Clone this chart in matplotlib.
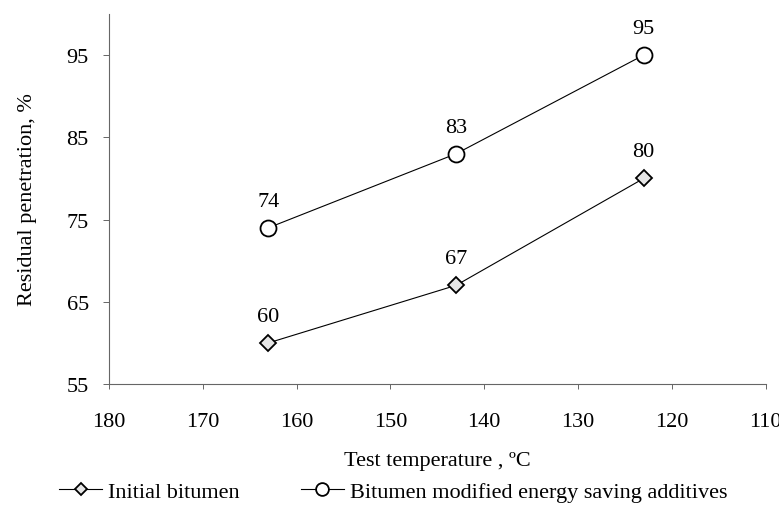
import matplotlib
matplotlib.use('Agg')
import matplotlib.pyplot as plt

plt.rcParams['font.family'] = ['Liberation Serif', 'DejaVu Serif']

# data
temps = [163, 143, 123]
initial = [60, 67, 80]
modified = [74, 83, 95]
x_ticks = [180, 170, 160, 150, 140, 130, 120, 110]
y_ticks = [55, 65, 75, 85, 95]

fig = plt.figure(figsize=(7.79, 5.06), dpi=100)
ax = fig.add_axes([0.1399, 0.2391, 0.8429, 0.7313])

l1, = ax.plot(temps, initial, color='black', lw=0.8, marker='D', markersize=8,
              markerfacecolor='#e6e6e6', markeredgecolor='black', markeredgewidth=1.3,
              label='Initial bitumen')
l2, = ax.plot(temps, modified, color='black', lw=0.8, marker='o', markersize=11.5,
              markerfacecolor='white', markeredgecolor='black', markeredgewidth=1.3,
              label='Bitumen modified energy saving additives')

# value labels over each point
for xs, ys in ((temps, initial), (temps, modified)):
    for x, y in zip(xs, ys):
        ax.annotate(str(y), (x, y), textcoords='offset points', xytext=(0, 16),
                    ha='center', va='baseline', fontsize=16)

ax.set_xlim(180, 110)
ax.set_ylim(55, 100)
ax.set_xticks(x_ticks)
ax.set_yticks(y_ticks)
ax.tick_params(axis='x', labelsize=16, length=3.5, width=0.7, color='#666666', pad=16.5)
ax.tick_params(axis='y', labelsize=16, length=4.5, width=0.7, color='#666666', pad=10)

for s in ('top', 'right'):
    ax.spines[s].set_visible(False)
for s in ('left', 'bottom'):
    ax.spines[s].set_color('#666666')
    ax.spines[s].set_linewidth(0.8)

ax.set_xlabel('Test temperature , ºC', fontsize=16, labelpad=14.5)
ax.set_ylabel('Residual penetration, %', fontsize=16, labelpad=21.5)

fig.legend(handles=[l1, l2], loc='center left', bbox_to_anchor=(0.0616, 0.0257),
           ncol=2, frameon=False, fontsize=16, borderpad=0, columnspacing=2.75,
           handlelength=1.95, handletextpad=0.25, markerscale=0.8)

fig.savefig('out.png', dpi=100)
